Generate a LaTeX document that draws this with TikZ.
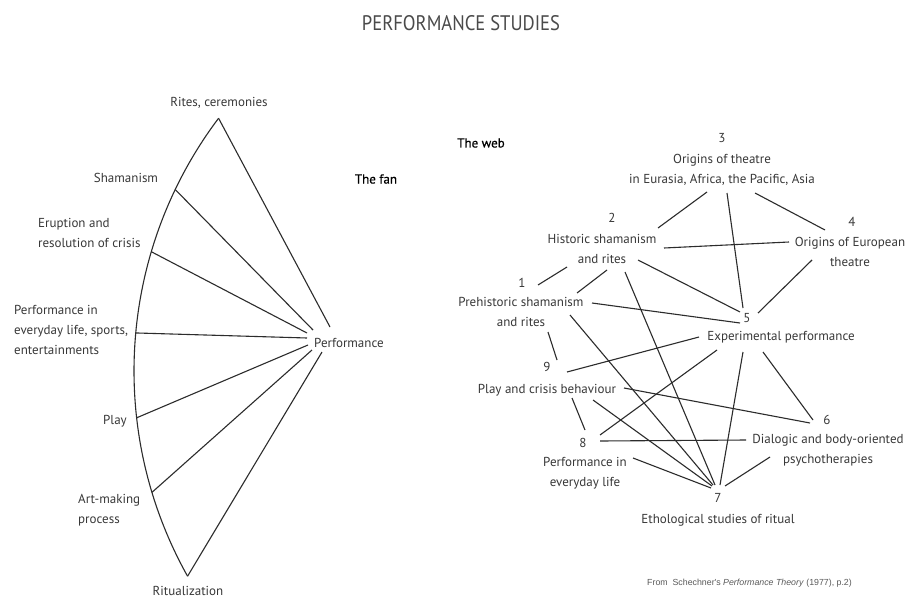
\documentclass[tikz,border=0pt]{standalone}
\usepackage{fontspec}
\setmainfont{PT Sans}
\newfontfamily\headfont[FakeBold=0.4]{PT Sans}
\newfontfamily\footfont{Liberation Sans}
\definecolor{labelgray}{HTML}{383838}
\definecolor{linegray}{HTML}{2C2C2C}
\definecolor{titlegray}{HTML}{4A4A4A}
\definecolor{footgray}{HTML}{5A5A5A}
\tikzset{
  lbl/.style={font=\fontsize{13}{20}\selectfont, text=labelgray, inner sep=1pt, align=center},
  lbll/.style={lbl, align=left, anchor=west},
  heading/.style={font=\headfont\fontsize{13}{15}\selectfont, text=black, inner sep=1pt},
  link/.style={draw=linegray, line width=1.1pt},
}
\begin{document}
\begin{tikzpicture}[x=1pt, y=-1pt]
\useasboundingbox[fill=white] (0,0) rectangle (918,600);

% title
\node[inner sep=0pt, text=titlegray] (title) at (461,23) {\resizebox{198pt}{15pt}{PERFORMANCE STUDIES}};

% ---------------- the fan ----------------
\node[heading] (fantitle) at (376,179) {The fan};
\node[lbl, anchor=west] (perf) at (313,343) {Performance};

\coordinate (fc) at (554,371);
\coordinate (f0) at ([shift={(217:420)}]fc);
\coordinate (f1) at ([shift={(205.6:420)}]fc);
\coordinate (f2) at ([shift={(196.5:420)}]fc);
\coordinate (f3) at ([shift={(185.2:420)}]fc);
\coordinate (f4) at ([shift={(173.6:420)}]fc);
\coordinate (f5) at ([shift={(163.2:420)}]fc);
\coordinate (f6) at ([shift={(150.75:420)}]fc);

\draw[link] (f0) arc[start angle=217, end angle=150.75, radius=420];

\draw[link] (f0) -- ([shift={(17,-16)}]perf.west);
\draw[link] (f1) -- ([shift={(0,-13)}]perf.west);
\draw[link] (f2) -- ([shift={(-6,-10)}]perf.west);
\draw[link] (f3) -- ([shift={(-6,-5)}]perf.west);
\draw[link] (f4) -- ([shift={(-5,2)}]perf.west);
\draw[link] (f5) -- ([shift={(-1,7)}]perf.west);
\draw[link] (f6) -- ([shift={(9,9)}]perf.west);

\node[lbl] (rites) at (219,103) {Rites, ceremonies};
\node[lbl] (sham) at (126,178) {Shamanism};
\node[lbll] (erupt) at (37,233) {Eruption and\\resolution of crisis};
\node[lbll] (pel) at (13,330) {Performance in\\everyday life, sports,\\entertainments};
\node[lbl] (play) at (115,421) {Play};
\node[lbll] (art) at (77,510) {Art-making\\process};
\node[lbl] (ritual) at (188,591) {Ritualization};

% ---------------- the web ----------------
\node[heading] (webtitle) at (481,143) {The web};

\node[lbl] (d3) at (722,138) {3};
\node[lbl] (t3) at (722,170) {Origins of theatre\\in Eurasia, Africa, the Pacific, Asia};
\node[lbl] (d2) at (612,218) {2};
\node[lbl] (t2) at (602,249) {Historic shamanism\\and rites};
\node[lbl] (d4) at (852,222) {4};
\node[lbl] (t4) at (850,252) {Origins of European\\theatre};
\node[lbl] (d1) at (522,283) {1};
\node[lbl] (t1) at (521,312) {Prehistoric shamanism\\and rites};
\node[lbl] (d5) at (747,318) {5};
\node[lbl] (t5) at (781,337) {Experimental performance};
\node[lbl] (d9) at (547,367) {9};
\node[lbl] (t9) at (547,390) {Play and crisis behaviour};
\node[lbl] (d6) at (827,420) {6};
\node[lbl] (t6) at (828,450) {Dialogic and body-oriented\\psychotherapies};
\node[lbl] (d8) at (583,443) {8};
\node[lbl] (t8) at (585,473) {Performance in\\everyday life};
\node[lbl] (d7) at (718,498) {7};
\node[lbl] (t7) at (718,520) {Ethological studies of ritual};

% connectors
\draw[link] ([shift={(-15,22)}]t3.center) -- ([shift={(56,-21)}]t2.center);
\draw[link] ([shift={(5,23)}]t3.center) -- ([shift={(-4,-10)}]d5.center);
\draw[link] ([shift={(33,23)}]t3.center) -- ([shift={(-27,8)}]d4.center);
\draw[link] ([shift={(62,-1)}]t2.center) -- ([shift={(-61,-10)}]t4.center);
\draw[link] ([shift={(-35,18)}]t2.center) -- ([shift={(16,2)}]d1.center);
\draw[link] ([shift={(5,21)}]t2.center) -- ([shift={(56,-19)}]t1.center);
\draw[link] ([shift={(23,23)}]t2.center) -- ([shift={(-3,-13)}]d7.center);
\draw[link] ([shift={(36,11)}]t2.center) -- ([shift={(-7,-6)}]d5.center);
\draw[link] ([shift={(-38,8)}]t4.center) -- ([shift={(11,-5)}]d5.center);
\draw[link] ([shift={(71,-9)}]t1.center) -- ([shift={(-7,5)}]d5.center);
\draw[link] ([shift={(27,20)}]t1.center) -- ([shift={(10,-7)}]d9.center);
\draw[link] ([shift={(49,3)}]t1.center) -- ([shift={(-5,-13)}]d7.center);
\draw[link] ([shift={(20,5)}]d9.center) -- ([shift={(-82,0)}]t5.center);
\draw[link] ([shift={(17,-8)}]d8.center) -- ([shift={(-64,13)}]t5.center);
\draw[link] ([shift={(-38,15)}]t5.center) -- ([shift={(2,-13)}]d7.center);
\draw[link] ([shift={(-18,15)}]t5.center) -- ([shift={(-14,0)}]d6.center);
\draw[link] ([shift={(77,-2)}]t9.center) -- ([shift={(-17,3)}]d6.center);
\draw[link] ([shift={(25,8)}]t9.center) -- ([shift={(2,-13)}]d8.center);
\draw[link] ([shift={(46,10)}]t9.center) -- ([shift={(-6,-12)}]d7.center);
\draw[link] ([shift={(17,-2)}]d8.center) -- ([shift={(-82,-10)}]t6.center);
\draw[link] ([shift={(48,-15)}]t8.center) -- ([shift={(-7,-10)}]d7.center);
\draw[link] ([shift={(-58,7)}]t6.center) -- ([shift={(7,-12)}]d7.center);

% source
\node[anchor=west, inner sep=0pt, text=footgray, font=\footfont\fontsize{8.8}{10}\selectfont] (source) at (647,583)
  {From\ \ Schechner's \textit{Performance Theory} (1977), p.2)};
\end{tikzpicture}
\end{document}
